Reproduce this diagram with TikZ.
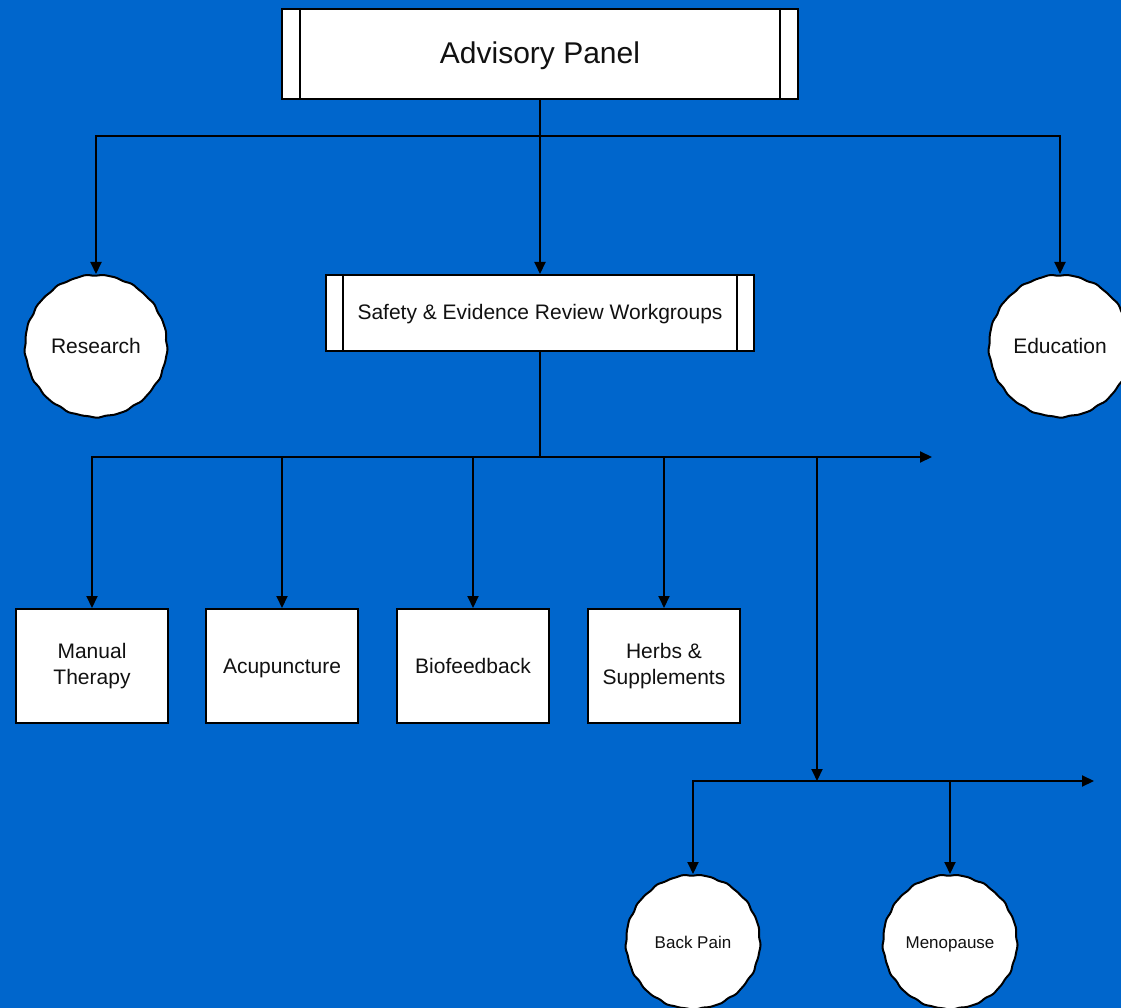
\documentclass[tikz,border=0pt]{standalone}
\usepackage{fontspec}
\setmainfont{Liberation Sans}
\usetikzlibrary{arrows.meta,backgrounds}
\definecolor{bg}{HTML}{0066CC}
\definecolor{ink}{HTML}{111111}
\newcommand\wobblecirc[2]{%
  \draw[draw=black,line width=2pt,fill=white,shift={(#1.center)}] plot[domain=0:357.5,samples=144,smooth cycle]
    (\x:{#2+0.45*sin(17*\x)+0.3*sin(29*\x+40)});}
\begin{document}
\begin{tikzpicture}[x=1pt,y=-1pt,line width=2pt,
  conn/.style={-{Triangle[width=11pt,length=12pt]}},
  panel/.style={draw,fill=white,rectangle,inner sep=0pt,text=ink},
  box/.style={draw,fill=white,rectangle,minimum width=152pt,minimum height=114pt,inner sep=0pt,align=center,text=ink,font=\fontsize{21}{26}\selectfont},
  onebox/.style={box,text height=17pt,text depth=2pt},
  bigcirc/.style={circle,inner sep=0pt,minimum size=142pt,text=ink,text height=17pt,text depth=2pt,font=\fontsize{21}{25}\selectfont},
  smallcirc/.style={circle,inner sep=0pt,minimum size=134pt,text=ink,text height=14pt,text depth=2pt,font=\fontsize{17}{20}\selectfont}
]
\useasboundingbox (0,0) rectangle (1121,1008);

% top panel
\node[panel,minimum width=516pt,minimum height=90pt,text height=22pt,text depth=2pt,font=\fontsize{30}{36}\selectfont] (ap) at (540,54) {Advisory Panel};
\draw ([xshift=19pt]ap.north west) -- ([xshift=19pt]ap.south west);
\draw ([xshift=-19pt]ap.north east) -- ([xshift=-19pt]ap.south east);

% second panel
\node[panel,minimum width=428pt,minimum height=76pt,text height=15pt,text depth=2pt,font=\fontsize{21}{25}\selectfont] (swg) at (540,313) {Safety \& Evidence Review Workgroups};
\draw ([xshift=18pt]swg.north west) -- ([xshift=18pt]swg.south west);
\draw ([xshift=-18pt]swg.north east) -- ([xshift=-18pt]swg.south east);

% circles
\node[bigcirc] (res) at (96,346) {Research};
\node[bigcirc] (edu) at (1060,346) {Education};
\node[smallcirc] (bp) at (693,942) {Back Pain};
\node[smallcirc] (mp) at (950,942) {Menopause};

\begin{scope}[on background layer]
  \fill[bg] (0,0) rectangle (1121,1008);
  \wobblecirc{res}{71}
  \wobblecirc{edu}{71}
  \wobblecirc{bp}{67}
  \wobblecirc{mp}{67}
\end{scope}

% boxes
\node[box] (mt) at (92,666) {Manual\\Therapy};
\node[onebox] (ac) at (282,666) {Acupuncture};
\node[onebox] (bf) at (473,666) {Biofeedback};
\node[box] (hs) at (664,666) {Herbs \&\\Supplements};

% connectors
\coordinate (j1) at (540,136);
\draw (ap.south) -- (j1);
\draw[conn] (j1) -| (res.north);
\draw[conn] (j1) -- (swg.north);
\draw[conn] (j1) -| (edu.north);

\coordinate (j2) at (540,457);
\coordinate (e1) at (932,457);
\coordinate (d1) at (817,457);
\draw (swg.south) -- (j2);
\draw[conn] (j2) -| (mt.north);
\draw[conn] (j2) -| (ac.north);
\draw[conn] (j2) -| (bf.north);
\draw[conn] (j2) -| (hs.north);
\draw[conn] (j2) -- (e1);

\coordinate (j3) at (817,781);
\coordinate (e2) at (1094,781);
\draw[conn] (d1) -- (j3);
\draw[conn] (j3) -| (bp.north);
\draw[conn] (j3) -| (mp.north);
\draw[conn] (j3) -- (e2);
\end{tikzpicture}
\end{document}
